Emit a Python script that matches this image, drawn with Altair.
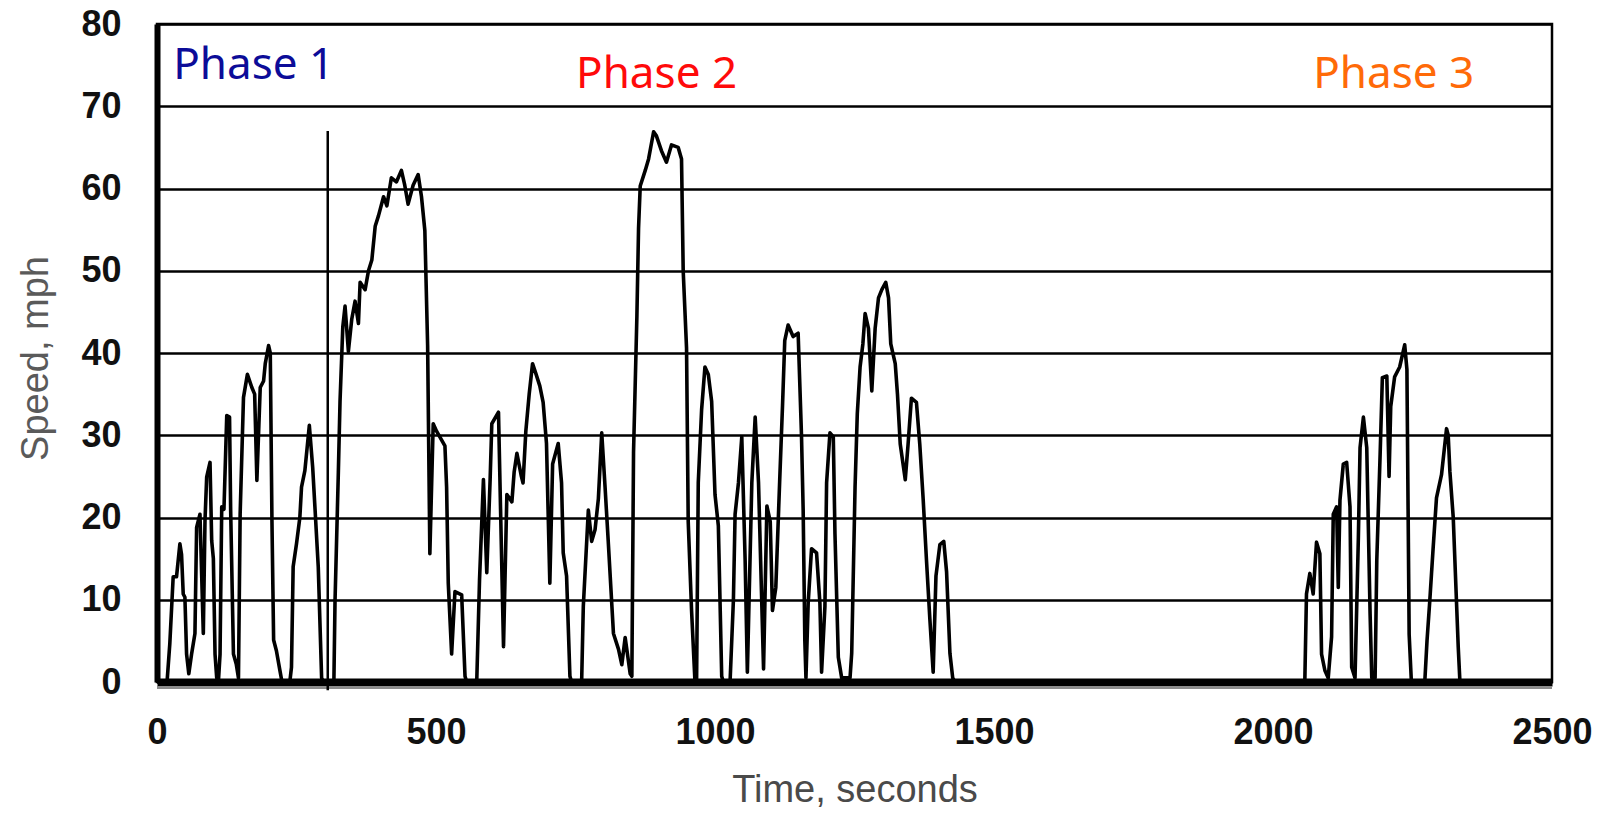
import altair as alt
import pandas as pd

# ---- speed trace (seconds, mph) ----
phase1_time = [0, 18, 23, 29, 35, 41, 44, 47, 50, 53, 57, 62, 68, 71, 77, 83, 86, 89, 95, 98,
               101, 104, 107, 110, 113, 116, 120, 125, 130, 132, 137, 142, 146, 149, 155, 162,
               170, 175, 179, 185, 191, 194, 200, 203, 206, 209, 214, 220, 224, 238, 241, 244,
               250, 256, 259, 265, 273, 279, 283, 289, 295, 298, 316]
phase1_speed = [0, 0, 4.7, 12.8, 12.8, 16.8, 15.5, 10.7, 10.3, 3.4, 1, 3.4, 5.9, 18.8, 20.4, 5.9,
                19.6, 24.9, 26.7, 17.2, 15, 3.4, 0.5, 0, 3.4, 21.3, 21, 32.4, 32.2, 20.9, 3.4,
                2.2, 0.5, 20.4, 34.6, 37.4, 35.8, 35, 24.5, 35.8, 36.6, 38.7, 40.9, 40, 19.6,
                5.1, 3.8, 1.5, 0, 0, 1.8, 14, 16.8, 20, 23.7, 25.7, 31.2, 26.1, 21.3, 14, 0.5,
                0, 0]

phase2_time = [317, 319, 325, 328, 333, 337, 343, 349, 355, 361, 364, 373, 379, 385, 391, 397,
               406, 412, 420, 429, 438, 444, 450, 459, 468, 474, 480, 485, 489, 495, 501, 516,
               519, 522, 528, 534, 546, 552, 555, 573, 578, 585, 591, 597, 600, 612, 616, 621,
               627, 636, 640, 645, 653, 656, 661, 667, 673, 679, 686, 692, 698, 704, 709, 719,
               725, 728, 734, 740, 743, 761, 764, 773, 779, 785, 791, 797, 803, 809, 818, 827,
               833, 839, 848, 851, 854, 860, 863, 866, 875, 881, 890, 895, 904, 913, 922, 934,
               940, 943, 949, 952, 958, 964, 967, 970, 976, 982, 988, 994, 1000, 1006, 1012,
               1015, 1027, 1033, 1036, 1042, 1048, 1054, 1058, 1066, 1072, 1078, 1087, 1093,
               1099, 1103, 1109, 1116, 1121, 1125, 1131, 1140, 1149, 1155, 1158, 1161, 1163,
               1167, 1173, 1182, 1188, 1191, 1197, 1200, 1206, 1212, 1215, 1221, 1227, 1242,
               1245, 1251, 1255, 1260, 1265, 1269, 1275, 1281, 1287, 1293, 1299, 1306, 1311,
               1315, 1323, 1327, 1332, 1341, 1346, 1352, 1361, 1367, 1373, 1379, 1385, 1391,
               1396, 1403, 1410, 1415, 1421, 1426, 1430]
phase2_speed = [0, 9.7, 25.5, 34.1, 43.2, 45.7, 40.2, 44.1, 46.3, 43.6, 48.6, 47.7, 50, 51.3,
                55.4, 56.7, 59, 57.9, 61.3, 60.8, 62.2, 60.4, 58.1, 60.4, 61.7, 59, 54.9, 40.9,
                15.6, 31.4, 30.5, 28.7, 23.7, 12, 3.4, 11, 10.6, 0.7, 0, 0, 12.4, 24.6, 13.3,
                24.6, 31.4, 32.8, 20, 4.3, 22.8, 21.9, 25.5, 27.8, 25, 24.2, 30.5, 35, 38.7,
                37.5, 36, 34, 29, 12, 26.5, 29, 24.2, 15.7, 12.9, 0.7, 0, 0, 9.2, 20.9, 17.1,
                18.5, 22.3, 30.3, 23.7, 16.7, 5.9, 4, 2.1, 5.4, 1, 0.7, 27.9, 44.4, 55.2, 60.3,
                62.2, 63.6, 66.9, 66.4, 64.6, 63.2, 65.3, 65, 63.6, 50, 40.6, 19.5, 8.7, 0.2,
                0, 24.2, 33.1, 38.3, 37.4, 34.1, 22.8, 19, 0.7, 0, 0, 10, 20.4, 24.2, 29.8,
                14.8, 1.2, 24.2, 32.2, 24.2, 1.6, 21.4, 19.5, 8.7, 11.5, 24.6, 33.6, 41.5,
                43.4, 42, 42.4, 30, 20.9, 5, 0.5, 9.6, 16.2, 15.7, 9.6, 1.2, 9.2, 24.2, 30.3,
                29.8, 18, 3, 0.5, 0.5, 3.5, 23.7, 32.6, 38.3, 41.1, 44.8, 43, 35.4, 43, 46.7,
                47.7, 48.6, 46.7, 41.1, 38.7, 35, 28.9, 24.6, 28.9, 34.5, 34, 28.9, 22.3, 14.8,
                7.7, 1.2, 12.9, 16.7, 17.1, 13.4, 3.5, 0.5, 0]

phase3_time = [2057, 2060, 2066, 2072, 2078, 2084, 2087, 2093, 2099, 2105, 2108, 2114, 2117,
               2120, 2126, 2132, 2138, 2141, 2147, 2153, 2156, 2162, 2168, 2174, 2177, 2183,
               2186, 2192, 2196, 2204, 2208, 2211, 2218, 2227, 2236, 2240, 2244, 2248, 2272,
               2276, 2281, 2287, 2293, 2302, 2311, 2314, 2317, 2323, 2332, 2335, 2500]
phase3_speed = [0, 10.7, 13.2, 10.7, 17, 15.6, 3.4, 1.4, 0.5, 5.5, 20.4, 21.3, 11.5, 22.1,
                26.5, 26.7, 21.3, 1.8, 0.5, 17.6, 28.5, 32.2, 28.5, 8.3, 0.5, 0.5, 14.8, 27.7,
                37, 37.2, 25, 33.5, 37.1, 38.3, 41, 38, 5.8, 0, 0, 5, 9.9, 16.3, 22.4, 25.2,
                30.8, 30, 25.6, 20, 4.2, 0, 0]

# ---- axis ticks ----
x_ticks = [0, 500, 1000, 1500, 2000, 2500]
y_ticks = [0, 10, 20, 30, 40, 50, 60, 70, 80]

# ---- annotations ----
phase_labels = ["Phase 1", "Phase 2", "Phase 3"]
phase_colors = ["#0c0c98", "#ff0a0a", "#ff6a08"]
phase_label_t = [29, 751, 2072]
phase_label_v = [73.3, 72.2, 72.2]

boundary_t = [306]
boundary_bottom = [-1]
boundary_top = [67]

shadow_start = [0]
shadow_end = [2500]
shadow_level = [-0.67]

# ---- data frames ----
trace = pd.DataFrame({
    "t": phase1_time + phase2_time + phase3_time,
    "v": phase1_speed + phase2_speed + phase3_speed,
})
labels_df = pd.DataFrame({"t": phase_label_t, "v": phase_label_v,
                          "label": phase_labels, "color": phase_colors})
boundary_df = pd.DataFrame({"t": boundary_t, "v": boundary_bottom, "v2": boundary_top})
shadow_df = pd.DataFrame({"t": shadow_start, "t2": shadow_end, "v": shadow_level})

x_scale = alt.Scale(domain=[0, 2500], nice=False, zero=True)
y_scale = alt.Scale(domain=[0, 80], nice=False)

x_axis = alt.Axis(values=x_ticks, format="d", title="Time, seconds", grid=False,
                  ticks=False, tickSize=0, labelPadding=33, labelFlush=False,
                  labelFont="Liberation Sans", labelFontSize=36, labelFontWeight="bold",
                  labelColor="#111111",
                  domainColor="black", domainWidth=8,
                  titleFont="Liberation Sans", titleFontSize=38, titleFontWeight="normal",
                  titleColor="#4a4a4a", titleY=119, titleBaseline="alphabetic")
y_axis = alt.Axis(values=y_ticks, title="Speed, mph", grid=True, gridColor="black",
                  gridWidth=2.6, gridOpacity=1, ticks=False, tickSize=0, labelPadding=36,
                  labelFont="Liberation Sans", labelFontSize=36, labelFontWeight="bold",
                  labelColor="#111111", labelOverlap=False,
                  domainColor="black", domainWidth=6,
                  titleFont="Liberation Sans", titleFontSize=38, titleFontWeight="normal",
                  titleColor="#5a5a5a", titleX=-102, titleY=334)


def X(field):
    return alt.X(field, scale=x_scale, axis=x_axis)


def Y(field):
    return alt.Y(field, scale=y_scale, axis=y_axis)


shadow = alt.Chart(shadow_df).mark_rule(color="#8c8c8c", strokeWidth=3).encode(
    x=X("t:Q"), x2="t2:Q", y=Y("v:Q"))

line = alt.Chart(trace).mark_line(color="black", strokeWidth=3.6, strokeJoin="round").encode(
    x=X("t:Q"), y=Y("v:Q"), order="t:Q")

boundary = alt.Chart(boundary_df).mark_rule(color="black", strokeWidth=2.5).encode(
    x=X("t:Q"), y=Y("v:Q"), y2="v2:Q")

text = alt.Chart(labels_df).mark_text(align="left", baseline="alphabetic",
                                      font="Noto Sans", fontSize=44).encode(
    x=X("t:Q"), y=Y("v:Q"), text="label:N", color=alt.Color("color:N", scale=None))

chart = alt.layer(shadow, line, boundary, text).properties(
    width=1395, height=658,
    autosize=alt.AutoSizeParams(type="none"),
    padding={"left": 149, "top": 16, "right": 44, "bottom": 128},
    background="white",
).configure_view(stroke="black", strokeWidth=2.5)

chart.save("out.html", embed_options={"renderer": "svg", "actions": False})
